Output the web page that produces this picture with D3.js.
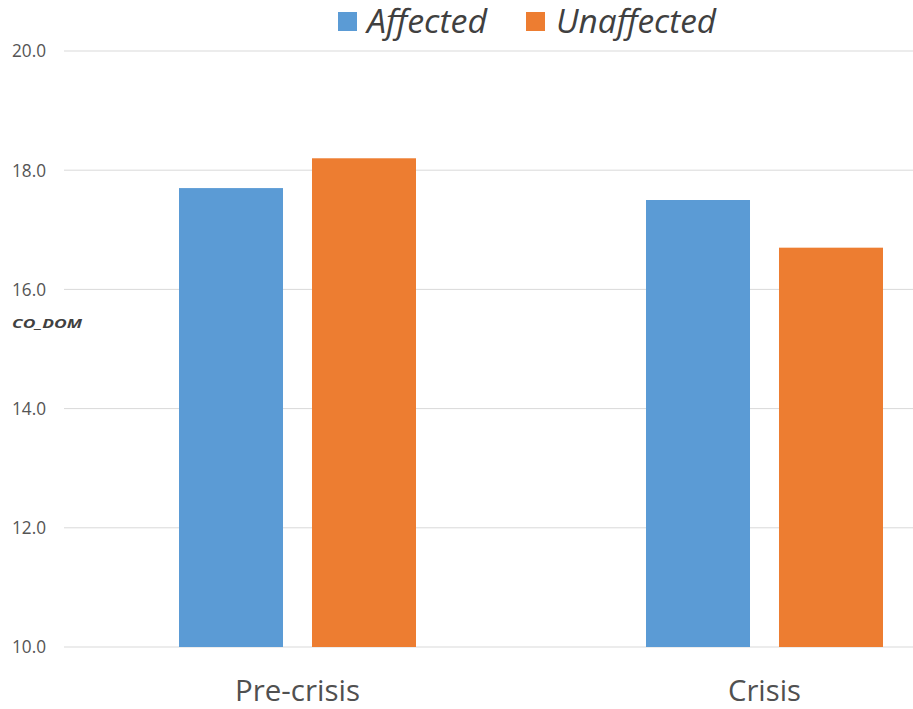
<!DOCTYPE html>
<html>
<head>
<meta charset="utf-8">
<script src="https://cdn.jsdelivr.net/npm/d3@7"></script>
<style>
  html, body { margin: 0; padding: 0; background: #fff; }
  svg { display: block; }
</style>
</head>
<body>
<svg id="chart" width="913" height="709"></svg>
<script>
// Chart data
const categories = ["Pre-crisis", "Crisis"];
const seriesNames = ["Affected", "Unaffected"];
const affected = [17.7, 17.5];
const unaffected = [18.2, 16.7];
const yTicks = [10, 12, 14, 16, 18, 20];
const colors = ["#5B9BD5", "#ED7D31"];

const W = 913, H = 709;
const plot = { left: 64, right: 998, top: 51, bottom: 647 };
const font = "'Open Sans', 'Noto Sans', sans-serif";

const svg = d3.select("#chart");

const y = d3.scaleLinear().domain([10, 20]).range([plot.bottom, plot.top]);
const x = d3.scaleBand().domain(categories).range([plot.left, plot.right]).padding(0);
const xs = d3.scaleBand().domain(seriesNames).range([-118.5, 118.5]).paddingInner(0.218).paddingOuter(0);

// Horizontal gridlines
svg.append("g").selectAll("line").data(yTicks).join("line")
  .attr("x1", plot.left).attr("x2", W)
  .attr("y1", d => y(d)).attr("y2", d => y(d))
  .attr("stroke", "#d9d9d9").attr("stroke-width", 1);

// Y axis tick labels
svg.append("g").selectAll("text").data(yTicks).join("text")
  .attr("x", 46).attr("y", d => y(d)).attr("dy", "0.36em")
  .attr("text-anchor", "end")
  .attr("font-family", font).attr("font-size", 17.5)
  .attr("fill", "#555555")
  .attr("textLength", 34).attr("lengthAdjust", "spacingAndGlyphs")
  .text(d => d3.format(".1f")(d));

// Y axis title
svg.append("text")
  .attr("x", 12).attr("y", 328)
  .attr("font-family", font).attr("font-size", 13)
  .attr("font-weight", "bold").attr("font-style", "italic")
  .attr("fill", "#404040")
  .attr("textLength", 70).attr("lengthAdjust", "spacingAndGlyphs")
  .text("CO_DOM");

// Bars
const rows = categories.map((c, i) => ({ cat: c, values: [affected[i], unaffected[i]] }));
const groups = svg.append("g").selectAll("g").data(rows).join("g")
  .attr("transform", d => `translate(${x(d.cat) + x.bandwidth() / 2},0)`);
groups.selectAll("rect").data(d => d.values.map((v, j) => ({ v, s: seriesNames[j], j })))
  .join("rect")
  .attr("x", d => xs(d.s))
  .attr("width", xs.bandwidth())
  .attr("y", d => y(d.v))
  .attr("height", d => y(10) - y(d.v))
  .attr("fill", d => colors[d.j]);

// Category labels
svg.append("g").selectAll("text").data(categories).join("text")
  .attr("x", d => x(d) + x.bandwidth() / 2).attr("y", 701)
  .attr("text-anchor", "middle")
  .attr("font-family", font).attr("font-size", 29)
  .attr("fill", "#505050")
  .attr("textLength", (d, i) => i === 0 ? 125 : 73)
  .attr("lengthAdjust", "spacingAndGlyphs")
  .text(d => d);

// Legend
const legendItems = [
  { name: "Affected", color: colors[0], sx: 338, tx: 367, tw: 120 },
  { name: "Unaffected", color: colors[1], sx: 526, tx: 556, tw: 160 }
];
const lg = svg.append("g");
lg.selectAll("rect").data(legendItems).join("rect")
  .attr("x", d => d.sx).attr("y", 12).attr("width", 19).attr("height", 19)
  .attr("fill", d => d.color);
lg.selectAll("text").data(legendItems).join("text")
  .attr("x", d => d.tx).attr("y", 33)
  .attr("font-family", font).attr("font-size", 32)
  .attr("font-style", "italic").attr("fill", "#404040")
  .attr("textLength", d => d.tw).attr("lengthAdjust", "spacingAndGlyphs")
  .text(d => d.name);
</script>
</body>
</html>
